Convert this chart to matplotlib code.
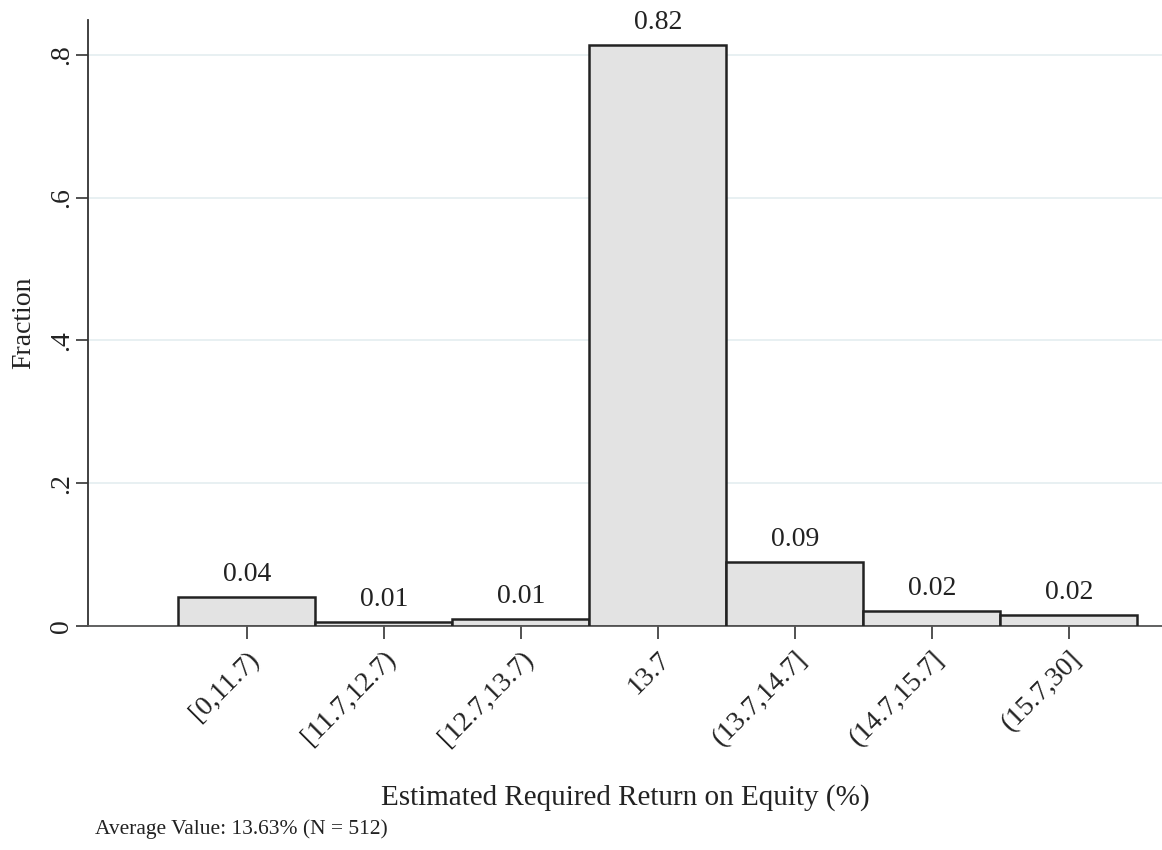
import numpy as np
import matplotlib
matplotlib.use("Agg")
import matplotlib.pyplot as plt

# bins and fractions
categories = ["[0,11.7)", "[11.7,12.7)", "[12.7,13.7)", "13.7",
              "(13.7,14.7]", "(14.7,15.7]", "(15.7,30]"]
fractions = [0.041, 0.006, 0.0098, 0.814, 0.0895, 0.021, 0.0155]
bar_labels = ["0.04", "0.01", "0.01", "0.82", "0.09", "0.02", "0.02"]
y_ticks = [0, 0.2, 0.4, 0.6, 0.8]
y_ticklabels = ["0", ".2", ".4", ".6", ".8"]

plt.rcParams['font.family'] = ['Liberation Serif', 'DejaVu Serif']
fs = 20

fig = plt.figure(figsize=(11.62, 8.5), dpi=100)
ax = fig.add_axes([0.0757, 0.2635, 0.9243, 0.7125])

x = np.arange(len(categories))
ax.bar(x, fractions, width=1.0, color='#e3e3e3', edgecolor='#222222',
       linewidth=1.8, zorder=3)
for xi, v, lab in zip(x, fractions, bar_labels):
    ax.annotate(lab, (xi, v), xytext=(0, 7), textcoords='offset points',
                ha='center', va='bottom', fontsize=fs, color='#222222')

ax.set_xlim(-1.16, 6.68)
ax.set_ylim(0, 0.848)
ax.set_yticks(y_ticks)
ax.set_yticklabels(y_ticklabels, rotation=90, va='center', fontsize=fs)
ax.set_xticks(x)
ax.set_xticklabels(categories, rotation=45, ha='right', rotation_mode='anchor',
                   fontsize=fs)
ax.tick_params(axis='both', length=9, width=1.2, color='#333333',
               labelcolor='#222222')
ax.tick_params(axis='y', pad=1)
ax.tick_params(axis='x', pad=6)

ax.grid(axis='y', color='#e4eef0', linewidth=1.2, zorder=0)
ax.spines['top'].set_visible(False)
ax.spines['right'].set_visible(False)
ax.spines['left'].set_color('#333333')
ax.spines['bottom'].set_color('#555555')
ax.spines['left'].set_linewidth(1.3)
ax.spines['bottom'].set_linewidth(1.3)

ax.set_ylabel('Fraction', fontsize=fs, color='#222222', labelpad=9)
fig.text(0.538, 0.062, 'Estimated Required Return on Equity (%)',
         ha='center', va='center', fontsize=fs + 1, color='#222222')
fig.text(0.082, 0.024, 'Average Value: 13.63% (N = 512)',
         ha='left', va='center', fontsize=15.5, color='#222222')

fig.savefig('out.png', dpi=100)
